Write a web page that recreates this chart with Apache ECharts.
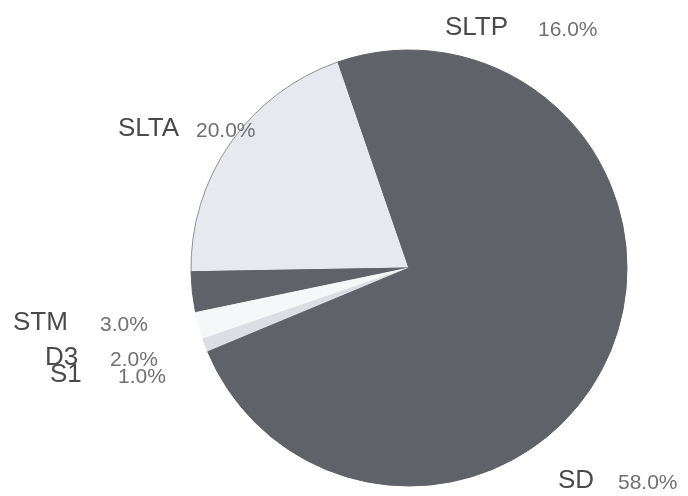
<!DOCTYPE html>
<html>
<head>
<meta charset="utf-8">
<script src="https://cdn.jsdelivr.net/npm/echarts@6/dist/echarts.min.js"></script>
<style>
html,body{margin:0;padding:0;background:#fff;}
#c{width:688px;height:496px;}
</style>
</head>
<body>
<div id="c"></div>
<script>
// Data (percent shares), listed counter-clockwise from the SLTA/SLTP boundary
var categories = ['SLTA', 'STM', 'D3', 'S1', 'SD', 'SLTP'];
var shares = [20.0, 3.0, 2.0, 1.0, 58.0, 16.0];

// Styling / layout (not data)
var sliceColors = ['#e7e9ee', '#5f6269', '#f6f7f9', '#dcdee3', '#5f6269', '#5f6269'];
var borderColors = ['#8e9096', '#5f6269', '#f6f7f9', '#dcdee3', '#5f6269', '#5f6269'];
// [name left x, percent left x, line centre y]
var labelPos = [
  [118, 196, 128],
  [13, 100, 322],
  [45, 110, 357],
  [50, 118, 374],
  [558, 618, 480],
  [445, 538, 27]
];

var rich = {
  p: { fontFamily: 'Liberation Sans', fontSize: 21, color: '#707074', lineHeight: 28, verticalAlign: 'bottom' }
};
labelPos.forEach(function (lp, i) {
  rich['n' + i] = { fontFamily: 'Liberation Sans', fontSize: 26, color: '#4a4a4e', width: lp[1] - lp[0], lineHeight: 28, verticalAlign: 'bottom' };
});

var data = categories.map(function (c, i) {
  return {
    name: c,
    value: shares[i],
    itemStyle: { color: sliceColors[i], borderColor: borderColors[i], borderWidth: 1 }
  };
});

var chart = echarts.init(document.getElementById('c'), null, { renderer: 'canvas' });
chart.setOption({
  backgroundColor: '#ffffff',
  animation: false,
  series: [{
    type: 'pie',
    center: [409, 268],
    radius: 218,
    startAngle: 109,
    clockwise: false,
    minAngle: 0,
    avoidLabelOverlap: false,
    data: data,
    label: {
      show: true,
      formatter: function (p) {
        return '{n' + p.dataIndex + '|' + p.name + '}{p|' + p.value.toFixed(1) + '%}';
      },
      rich: rich
    },
    labelLine: { show: false },
    labelLayout: function (params) {
      var lp = labelPos[params.dataIndex];
      return { x: lp[0], y: lp[2], align: 'left', verticalAlign: 'middle' };
    },
    emphasis: { disabled: true }
  }]
});
</script>
</body>
</html>
